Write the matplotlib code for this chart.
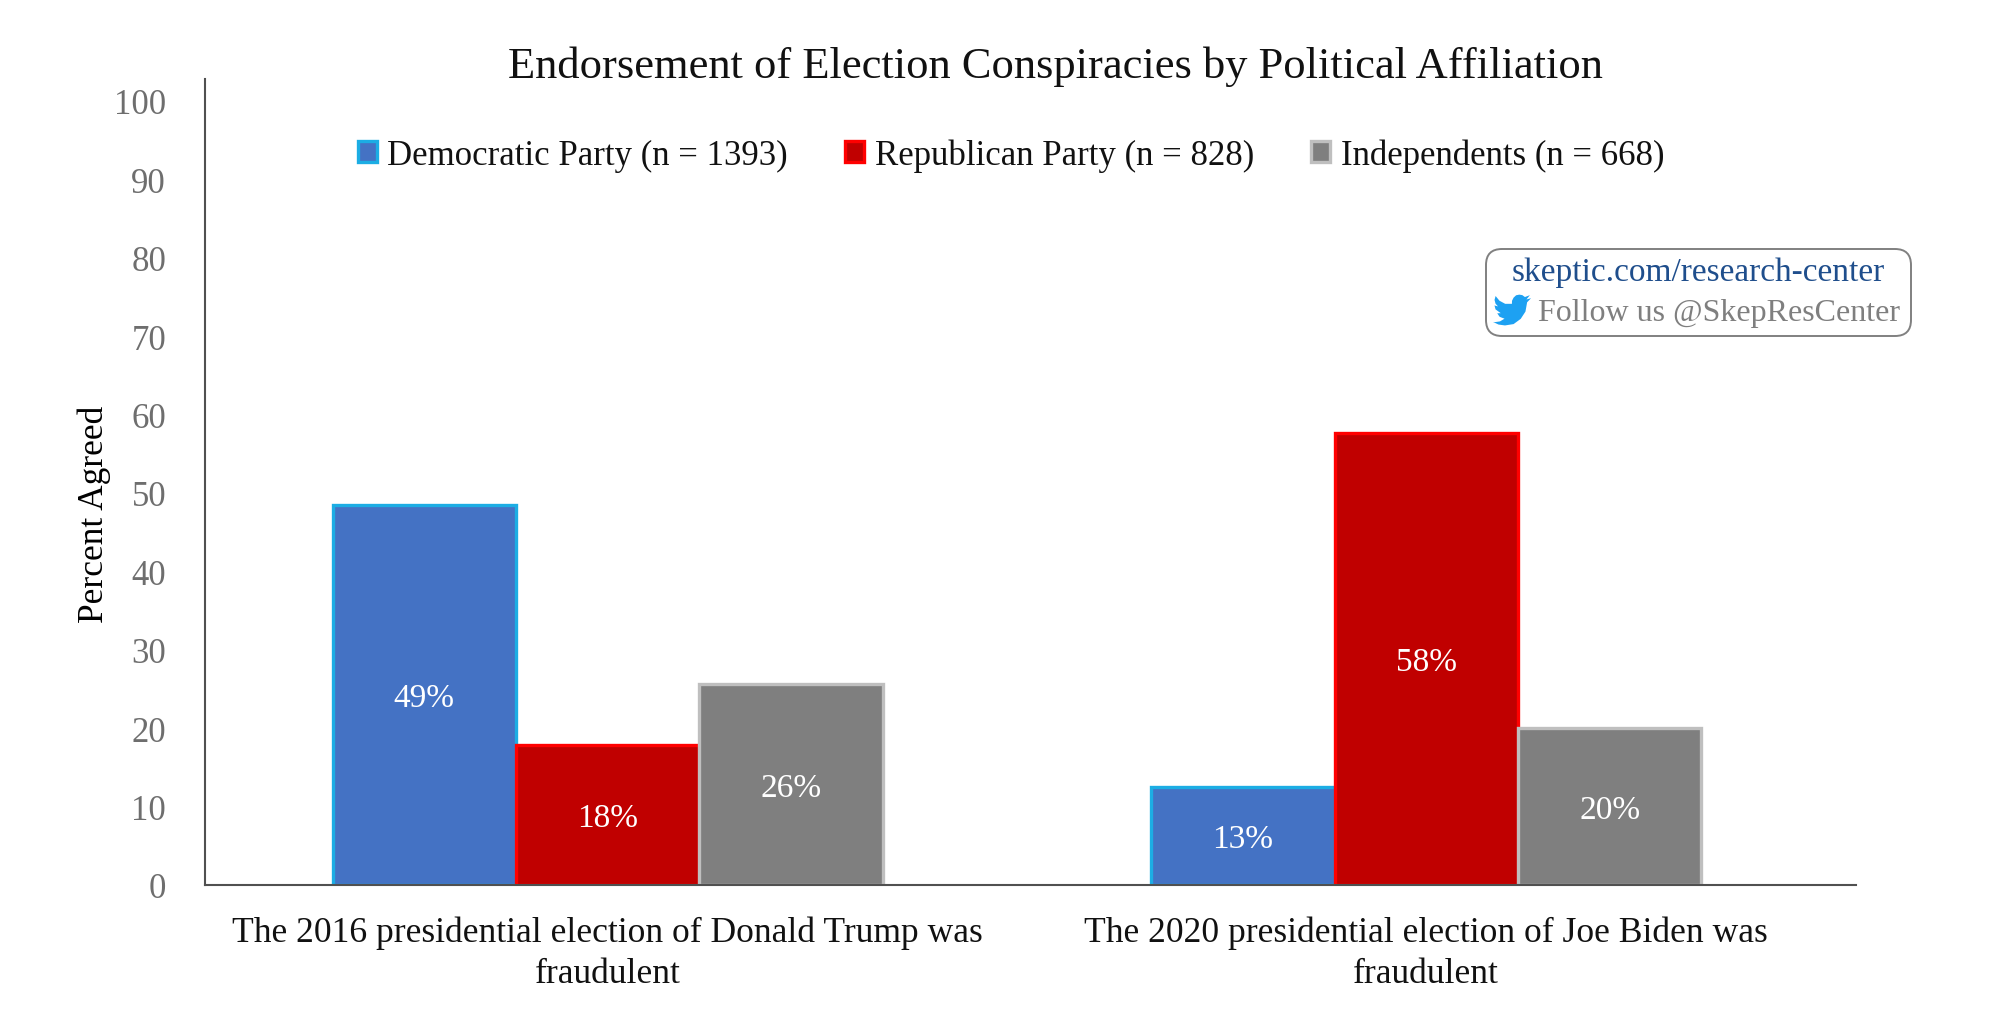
import numpy as np
import matplotlib.pyplot as plt
from matplotlib.patches import FancyBboxPatch, Polygon

plt.rcParams['font.family'] = ['Liberation Serif', 'DejaVu Serif']

# Values
categories = ['The 2016 presidential election of Donald Trump was\nfraudulent',
              'The 2020 presidential election of Joe Biden was\nfraudulent']
dem = [48.5, 12.5]
rep = [17.8, 57.7]
ind = [25.6, 20.0]
dem_labels = ['49%', '13%']
rep_labels = ['18%', '58%']
ind_labels = ['26%', '20%']
yticks = np.arange(0, 101, 10)

W, H = 2000, 1020
L, R, T, B = 205, 1856, 80, 886
fig = plt.figure(figsize=(20, 10.2), dpi=100)
ax = fig.add_axes([L / W, 1 - B / H, (R - L) / W, (B - T) / H])

# Bars
x = np.arange(len(categories))
width = 0.224
b1 = ax.bar(x - width, dem, width, color='#4472C4', edgecolor='#1CADE4', linewidth=2.4,
            label='Democratic Party (n = 1393)')
b2 = ax.bar(x, rep, width, color='#C00000', edgecolor='#FF0000', linewidth=2.4,
            label='Republican Party (n = 828)')
b3 = ax.bar(x + width, ind, width, color='#7F7F7F', edgecolor='#BFBFBF', linewidth=2.4,
            label='Independents (n = 668)')
ax.bar_label(b1, labels=dem_labels, label_type='center', color='white', fontsize=24, padding=-2)
ax.bar_label(b2, labels=rep_labels, label_type='center', color='white', fontsize=24, padding=-2)
ax.bar_label(b3, labels=ind_labels, label_type='center', color='white', fontsize=24, padding=-2)

# Axes
ax.set_xlim(-0.492, 1.525)
ax.set_ylim(0, 102.8)
ax.set_yticks(yticks)
ax.set_yticks([0], minor=True)
ax.set_xticks(x)
ax.set_xticklabels(categories, fontsize=25.6, color='#111111', linespacing=1.32)
ax.tick_params(axis='x', length=0, pad=22)
ax.tick_params(axis='y', which='major', length=0, labelsize=25, labelcolor='#6E6E6E', pad=28)
ax.tick_params(axis='y', which='minor', length=5, width=1, color='#BFBFBF')
ax.spines['top'].set_visible(False)
ax.spines['right'].set_visible(False)
ax.spines['left'].set_color('#505050')
ax.spines['bottom'].set_color('#505050')
ax.spines['left'].set_linewidth(1.5)
ax.spines['bottom'].set_linewidth(1.5)
ax.set_axisbelow(False)

ax.set_ylabel('Percent Agreed', fontsize=25.5, color='black')
ax.yaxis.set_label_coords((111 - L) / (R - L), 0.461)
fig.text(1055 / W, 1 - 67 / H, 'Endorsement of Election Conspiracies by Political Affiliation',
         ha='center', va='center', fontsize=32, color='#111111')

# Legend
leg = ax.legend(loc='center', bbox_to_anchor=((1011 - L) / (R - L), 1 - (156 - T) / (B - T)),
                ncol=3, frameon=False, fontsize=25, handlelength=0.55, handleheight=0.55,
                handletextpad=0.3, columnspacing=1.65, borderpad=0)
for txt in leg.get_texts():
    txt.set_color('#111111')

# Follow-us box, placed in figure pixels
box = FancyBboxPatch((1486 / W, 1 - 337 / H), 425 / W, 87 / H, transform=fig.transFigure,
                     boxstyle='round,pad=0,rounding_size=0.008', mutation_aspect=W / H,
                     facecolor='white', edgecolor='#808080', linewidth=1.4, zorder=5)
fig.add_artist(box)
fig.text(1698 / W, 1 - 273 / H, 'skeptic.com/research-center', ha='center', va='center',
         fontsize=24, color='#1F4E8C', zorder=6)
fig.text(1538 / W, 1 - 314 / H, 'Follow us @SkepResCenter', ha='left', va='center',
         fontsize=23, color='#7F7F7F', zorder=6)

# Twitter bird outline, 24 unit grid
bird = np.array([(23.95, 4.57), (21.13, 5.35), (23.29, 2.62), (20.16, 3.81), (18.5, 2.6), (16.6, 2.3),
                 (14.6, 2.7), (13.0, 4.2), (12.0, 6.2), (11.95, 8.1), (7.69, 8.1), (4.07, 6.13), (1.64, 3.16),
                 (0.97, 5.64), (1.6, 8.0), (3.16, 9.73), (0.93, 9.12), (1.6, 11.6), (4.88, 14.0), (2.67, 14.09),
                 (4.2, 16.3), (7.27, 17.5), (4.4, 19.2), (1.17, 19.67), (0.0, 19.54), (3.5, 21.2), (7.56, 21.75),
                 (13.0, 20.9), (17.5, 17.6), (20.5, 13.0), (21.55, 7.13), (24.0, 4.59)])
px = 1493 + bird[:, 0] * 38 / 24
py = 292 + bird[:, 1] * 38 / 24
fig.add_artist(Polygon(np.column_stack([px / W, 1 - py / H]), closed=True, transform=fig.transFigure,
                       facecolor='#1DA1F2', edgecolor='none', zorder=6))

fig.savefig('out.png', dpi=100, facecolor='white')
